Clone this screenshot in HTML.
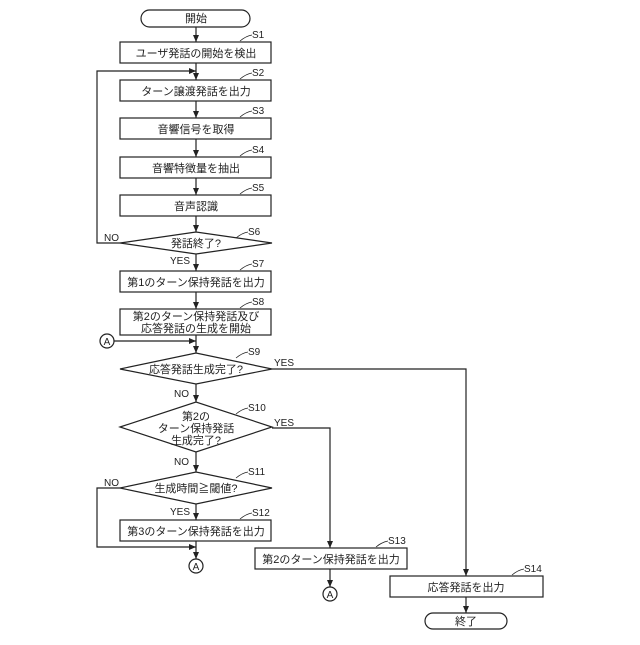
<!DOCTYPE html>
<html><head><meta charset="utf-8"><style>body{margin:0;background:#fff}</style></head><body>
<svg width="640" height="640" viewBox="0 0 640 640" xmlns="http://www.w3.org/2000/svg" font-family="Liberation Sans, Noto Sans CJK JP, sans-serif" font-size="11" fill="none" stroke="#222" stroke-width="1.2">
<defs><marker id="a" markerWidth="8" markerHeight="8" refX="7" refY="4" orient="auto" markerUnits="userSpaceOnUse"><path d="M0,1 L7,4 L0,7z" fill="#222" stroke="none"/></marker></defs>
<rect x="141" y="10" width="109" height="17" rx="8.5"/>
<rect x="120" y="42" width="151" height="21"/>
<rect x="120" y="80" width="151" height="21"/>
<rect x="120" y="118" width="151" height="21"/>
<rect x="120" y="157" width="151" height="21"/>
<rect x="120" y="195" width="151" height="21"/>
<polygon points="120,243 196,232 272,243 196,254"/>
<rect x="120" y="271" width="151" height="21"/>
<rect x="120" y="309" width="151" height="26"/>
<polygon points="120,369 196,353 272,369 196,384"/>
<polygon points="120,427 196,402 272,427 196,452"/>
<polygon points="120,488 196,472 272,488 196,504"/>
<rect x="120" y="520" width="151" height="21"/>
<rect x="255" y="548" width="152" height="21"/>
<rect x="390" y="576" width="153" height="21"/>
<rect x="425" y="613" width="82" height="16" rx="8"/>
<circle cx="107" cy="341" r="7"/><circle cx="196" cy="566" r="7"/><circle cx="330" cy="594" r="7"/>
<g marker-end="url(#a)">
<line x1="196" y1="27" x2="196" y2="42"/><line x1="196" y1="63" x2="196" y2="80"/>
<line x1="196" y1="101" x2="196" y2="118"/><line x1="196" y1="139" x2="196" y2="157"/>
<line x1="196" y1="178" x2="196" y2="195"/><line x1="196" y1="216" x2="196" y2="232"/>
<line x1="196" y1="254" x2="196" y2="271"/><line x1="196" y1="292" x2="196" y2="309"/>
<line x1="196" y1="335" x2="196" y2="353"/><line x1="114" y1="341" x2="196" y2="341"/>
<polyline points="120,243 97,243 97,71 196,71"/>
<line x1="196" y1="384" x2="196" y2="402"/><line x1="196" y1="452" x2="196" y2="472"/>
<line x1="196" y1="504" x2="196" y2="520"/><line x1="196" y1="541" x2="196" y2="559"/>
<polyline points="120,488 97,488 97,547 196,547"/>
<polyline points="272,369 466,369 466,576"/>
<polyline points="272,428 330,428 330,548"/>
<line x1="330" y1="569" x2="330" y2="587"/><line x1="466" y1="597" x2="466" y2="613"/>
</g>
<g stroke-width="0.8">
<path d="M240,41 q6,-5 12,-6"/><path d="M240,79 q6,-5 12,-6"/><path d="M240,117 q6,-5 12,-6"/><path d="M240,156 q6,-5 12,-6"/><path d="M240,194 q6,-5 12,-6"/><path d="M236,238 q6,-5 12,-6"/><path d="M240,270 q6,-5 12,-6"/><path d="M240,308 q6,-5 12,-6"/><path d="M236,358 q6,-5 12,-6"/><path d="M236,414 q6,-5 12,-6"/><path d="M236,478 q6,-5 12,-6"/><path d="M240,519 q6,-5 12,-6"/><path d="M376,547 q6,-5 12,-6"/><path d="M512,575 q6,-5 12,-6"/>
</g>
<g fill="#222" stroke="none" text-anchor="middle">
<text x="196" y="22">開始</text>
<text x="196" y="57">ユーザ発話の開始を検出</text>
<text x="196" y="95">ターン譲渡発話を出力</text>
<text x="196" y="133">音響信号を取得</text>
<text x="196" y="172">音響特徴量を抽出</text>
<text x="196" y="210">音声認識</text>
<text x="196" y="247">発話終了?</text>
<text x="196" y="286">第1のターン保持発話を出力</text>
<text x="196" y="320">第2のターン保持発話及び</text>
<text x="196" y="332">応答発話の生成を開始</text>
<text x="196" y="373">応答発話生成完了?</text>
<text x="196" y="420">第2の</text><text x="196" y="432">ターン保持発話</text><text x="196" y="444">生成完了?</text>
<text x="196" y="492">生成時間≧閾値?</text>
<text x="196" y="535">第3のターン保持発話を出力</text>
<text x="331" y="563">第2のターン保持発話を出力</text>
<text x="466" y="591">応答発話を出力</text>
<text x="466" y="625">終了</text>
<text x="107" y="345" font-size="10">A</text><text x="196" y="570" font-size="10">A</text><text x="330" y="598" font-size="10">A</text>
</g>
<g fill="#222" stroke="none" font-size="10">
<text x="252" y="38">S1</text><text x="252" y="76">S2</text><text x="252" y="114">S3</text><text x="252" y="153">S4</text><text x="252" y="191">S5</text><text x="248" y="235">S6</text><text x="252" y="267">S7</text><text x="252" y="305">S8</text><text x="248" y="355">S9</text><text x="248" y="411">S10</text><text x="248" y="475">S11</text><text x="252" y="516">S12</text><text x="388" y="544">S13</text><text x="524" y="572">S14</text>
<text x="104" y="241">NO</text><text x="170" y="264">YES</text><text x="274" y="366">YES</text><text x="174" y="397">NO</text><text x="274" y="426">YES</text><text x="174" y="465">NO</text><text x="104" y="486">NO</text><text x="170" y="515">YES</text>
</g>
</svg>
</body></html>
